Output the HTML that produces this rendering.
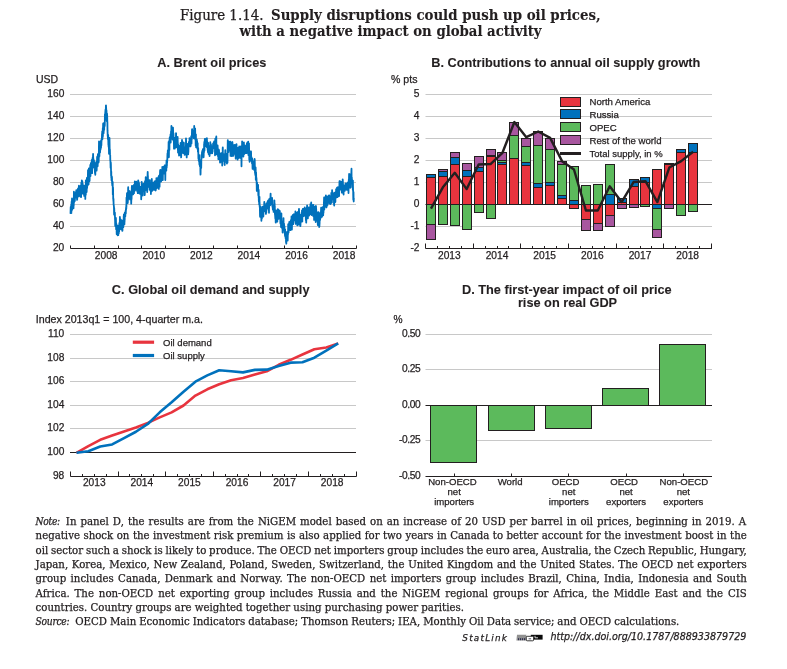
<!DOCTYPE html>
<html><head><meta charset="utf-8"><title>Figure 1.14</title>
<style>
html,body{margin:0;padding:0;background:#fff;}
#page{position:relative;width:787px;height:669px;overflow:hidden;background:#fff;color:#231F20;}
svg{position:absolute;left:0;top:0;}
svg text{font-family:"Liberation Sans", Arial, sans-serif;fill:#231F20;stroke:#231F20;stroke-width:0.25px;}
svg text[font-weight=bold]{stroke-width:0.1px;}
#notes{position:absolute;left:35.6px;top:514.6px;width:720px;font-family:"DejaVu Serif", "Liberation Serif", serif;font-size:10.2px;line-height:14.45px;color:#231F20;-webkit-text-stroke:0.25px #231F20;}
#notes div{white-space:pre;}
#notes .it{font-family:'DejaVu Serif Condensed',serif;font-size:10.2px;letter-spacing:-0.3px;}
#stat{position:absolute;left:0;top:630px;width:745.6px;text-align:right;white-space:nowrap;font-size:10px;line-height:14px;}
#stat .sl{font-family:"DejaVu Sans",sans-serif;font-style:italic;font-weight:bold;font-size:9.5px;letter-spacing:0.3px;color:#231F20;}
#stat .url{font-family:"Liberation Sans", Arial, sans-serif;font-style:italic;font-size:10.6px;}
</style></head><body><div id="page">
<svg width="787" height="669" viewBox="0 0 787 669">
<text x="180.0" y="20.0" font-size="14.9" style="font-family:'DejaVu Serif Condensed', 'DejaVu Serif', serif">Figure 1.14.</text>
<text x="271.0" y="20.0" font-size="14.84" font-weight="bold" style="font-family:'DejaVu Serif Condensed', 'DejaVu Serif', serif">Supply disruptions could push up oil prices,</text>
<text x="239.5" y="36.2" font-size="14.76" font-weight="bold" style="font-family:'DejaVu Serif Condensed', 'DejaVu Serif', serif">with a negative impact on global activity</text>
<text x="211.80" y="66.80" font-size="12.75" text-anchor="middle" font-weight="bold">A. Brent oil prices</text>
<text x="36.00" y="82.70" font-size="10.5">USD</text>
<line x1="70.00" y1="226.50" x2="356.00" y2="226.50" stroke="#C8C8C8" stroke-width="1"/>
<line x1="70.00" y1="204.50" x2="356.00" y2="204.50" stroke="#C8C8C8" stroke-width="1"/>
<line x1="70.00" y1="182.50" x2="356.00" y2="182.50" stroke="#C8C8C8" stroke-width="1"/>
<line x1="70.00" y1="160.50" x2="356.00" y2="160.50" stroke="#C8C8C8" stroke-width="1"/>
<line x1="70.00" y1="138.50" x2="356.00" y2="138.50" stroke="#C8C8C8" stroke-width="1"/>
<line x1="70.00" y1="116.50" x2="356.00" y2="116.50" stroke="#C8C8C8" stroke-width="1"/>
<line x1="70.00" y1="94.50" x2="356.00" y2="94.50" stroke="#C8C8C8" stroke-width="1"/>
<text x="64.30" y="251.00" font-size="10.2" text-anchor="end">20</text>
<text x="64.30" y="229.00" font-size="10.2" text-anchor="end">40</text>
<text x="64.30" y="207.00" font-size="10.2" text-anchor="end">60</text>
<text x="64.30" y="185.00" font-size="10.2" text-anchor="end">80</text>
<text x="64.30" y="163.00" font-size="10.2" text-anchor="end">100</text>
<text x="64.30" y="141.00" font-size="10.2" text-anchor="end">120</text>
<text x="64.30" y="119.00" font-size="10.2" text-anchor="end">140</text>
<text x="64.30" y="97.00" font-size="10.2" text-anchor="end">160</text>
<polyline points="70.5,213.7 70.6,210.5 70.7,206.9 70.8,209.6 70.9,213.2 71.0,211.2 71.1,208.4 71.2,205.0 71.3,210.2 71.4,212.9 71.5,208.1 71.5,206.3 71.6,202.1 71.7,201.5 71.8,204.4 71.9,206.3 72.0,198.5 72.1,203.1 72.2,206.9 72.3,209.7 72.4,207.2 72.5,205.7 72.6,206.3 72.7,205.6 72.8,204.1 72.9,201.9 73.0,199.5 73.1,200.8 73.2,207.4 73.2,203.0 73.3,207.1 73.4,205.2 73.5,208.1 73.6,204.9 73.7,205.6 73.8,202.7 73.9,191.7 74.0,196.3 74.1,195.8 74.2,202.0 74.3,201.8 74.4,198.6 74.5,199.2 74.6,198.0 74.7,198.0 74.7,201.3 74.8,198.0 74.9,200.5 75.0,193.3 75.1,196.9 75.2,194.9 75.3,195.8 75.4,193.2 75.5,196.8 75.6,193.7 75.7,195.6 75.8,192.2 75.9,192.5 76.0,194.1 76.1,197.7 76.2,194.7 76.2,194.2 76.3,190.2 76.4,194.5 76.5,193.7 76.6,193.4 76.7,194.0 76.8,194.5 76.9,194.8 77.0,197.3 77.1,199.9 77.2,199.2 77.3,195.8 77.4,191.3 77.5,190.6 77.6,190.0 77.7,190.6 77.7,191.1 77.8,192.9 77.9,192.0 78.0,188.4 78.1,193.1 78.2,196.6 78.3,190.1 78.4,192.1 78.5,190.7 78.6,190.2 78.7,196.1 78.8,187.8 78.9,185.7 79.0,189.4 79.1,189.4 79.2,191.3 79.3,195.2 79.3,194.7 79.4,192.8 79.5,189.5 79.6,189.0 79.7,190.6 79.8,187.3 79.9,192.2 80.0,189.6 80.1,187.3 80.2,190.4 80.3,196.5 80.4,196.7 80.5,193.1 80.6,190.3 80.7,185.7 80.8,191.2 80.9,190.7 81.0,188.3 81.1,189.6 81.1,197.0 81.2,190.7 81.3,182.7 81.4,182.7 81.5,188.6 81.6,189.9 81.7,188.5 81.8,180.5 81.9,182.3 82.0,184.7 82.1,181.6 82.2,185.3 82.3,181.1 82.4,187.0 82.5,189.4 82.6,186.9 82.7,183.6 82.8,184.4 82.8,185.9 82.9,193.4 83.0,193.8 83.1,193.7 83.2,193.5 83.3,189.9 83.4,191.1 83.5,188.3 83.6,189.1 83.7,190.9 83.8,190.5 83.9,189.3 84.0,187.5 84.1,190.8 84.2,191.8 84.2,195.9 84.3,188.7 84.4,185.7 84.5,189.3 84.6,192.1 84.7,196.0 84.8,193.6 84.9,192.4 85.0,185.7 85.1,187.8 85.2,191.9 85.3,198.9 85.4,190.1 85.5,189.3 85.6,194.3 85.7,191.0 85.8,194.7 85.8,180.4 85.9,180.4 86.0,181.9 86.1,184.8 86.2,192.2 86.3,189.4 86.4,192.2 86.5,186.6 86.6,192.2 86.7,190.9 86.8,183.4 86.9,178.0 87.0,184.0 87.1,187.9 87.2,182.0 87.2,178.9 87.3,183.0 87.4,183.9 87.5,184.1 87.6,185.6 87.7,184.4 87.8,177.5 87.9,175.6 88.0,170.1 88.1,174.0 88.2,176.0 88.3,179.5 88.4,178.4 88.5,181.5 88.6,184.3 88.7,177.7 88.8,171.8 88.9,170.6 88.9,168.3 89.0,170.4 89.1,174.4 89.2,173.7 89.3,174.7 89.4,177.3 89.5,180.4 89.6,181.1 89.7,176.5 89.8,173.6 89.9,173.9 90.0,167.8 90.1,168.6 90.2,167.5 90.3,164.8 90.4,169.8 90.5,176.0 90.6,170.0 90.6,171.5 90.7,165.7 90.8,165.7 90.9,163.4 91.0,162.9 91.1,171.7 91.2,166.8 91.3,168.8 91.4,169.9 91.5,169.2 91.6,164.7 91.7,161.9 91.8,159.8 91.9,167.4 92.0,167.5 92.1,173.2 92.2,168.4 92.3,163.5 92.3,165.3 92.4,162.7 92.5,161.3 92.6,157.8 92.7,161.9 92.8,163.8 92.9,164.3 93.0,156.1 93.1,153.9 93.2,157.5 93.3,158.4 93.4,159.5 93.5,159.9 93.6,161.7 93.7,163.3 93.8,167.3 93.9,167.6 94.0,160.4 94.0,160.7 94.1,162.6 94.2,164.7 94.3,165.1 94.4,164.6 94.5,167.8 94.6,166.9 94.7,166.5 94.8,169.8 94.9,171.8 95.0,173.0 95.1,173.6 95.2,167.4 95.3,174.8 95.4,171.5 95.5,170.8 95.6,170.4 95.7,167.7 95.8,162.8 95.9,163.7 96.0,164.7 96.0,166.6 96.1,165.8 96.2,161.9 96.3,164.0 96.4,167.4 96.5,169.4 96.6,169.7 96.7,170.7 96.8,162.8 96.9,161.2 97.0,162.2 97.1,156.9 97.2,161.0 97.3,158.2 97.4,156.4 97.5,163.1 97.6,166.3 97.7,165.6 97.8,158.9 97.9,154.1 98.0,159.9 98.1,155.0 98.2,157.1 98.2,158.0 98.3,158.7 98.4,158.2 98.5,162.6 98.6,161.9 98.7,162.2 98.8,156.3 98.9,147.9 99.0,141.3 99.1,148.0 99.2,155.8 99.3,155.1 99.4,156.4 99.5,146.9 99.6,146.7 99.7,150.7 99.8,146.8 99.9,146.0 100.0,152.7 100.1,152.1 100.2,150.5 100.3,148.7 100.4,147.1 100.5,147.7 100.5,145.9 100.6,147.5 100.7,149.0 100.8,141.4 100.9,141.3 101.0,140.7 101.1,147.1 101.2,145.2 101.3,140.6 101.4,145.3 101.5,139.3 101.6,141.1 101.7,138.9 101.8,139.4 101.9,138.1 102.0,133.8 102.1,136.9 102.2,131.4 102.3,136.4 102.4,139.2 102.5,134.6 102.5,138.1 102.6,137.2 102.7,132.1 102.8,128.1 102.9,136.2 103.0,132.1 103.1,124.9 103.2,123.4 103.3,127.4 103.4,130.4 103.5,130.5 103.6,133.2 103.7,131.2 103.8,129.7 103.9,128.4 104.0,122.9 104.1,124.8 104.2,129.7 104.2,123.1 104.3,127.0 104.4,126.4 104.5,124.7 104.6,124.4 104.7,126.2 104.8,124.2 104.9,114.3 105.0,118.9 105.1,118.9 105.2,114.0 105.3,112.4 105.4,111.1 105.5,109.6 105.5,118.5 105.6,118.6 105.7,114.6 105.8,110.8 105.9,105.6 106.0,105.5 106.1,107.6 106.2,109.1 106.3,111.4 106.4,111.4 106.5,110.4 106.6,114.1 106.7,118.2 106.7,121.0 106.8,115.9 106.9,113.3 107.0,113.6 107.1,114.8 107.2,116.0 107.3,121.2 107.4,122.6 107.5,130.4 107.6,132.4 107.7,136.3 107.8,134.4 107.9,139.0 108.0,139.4 108.1,138.3 108.2,135.0 108.3,141.1 108.4,145.1 108.5,141.5 108.6,146.7 108.7,144.4 108.8,147.2 108.9,147.4 109.0,153.8 109.1,148.8 109.1,150.9 109.2,153.7 109.3,145.5 109.4,146.5 109.5,138.0 109.6,144.6 109.7,150.9 109.8,152.9 109.9,149.4 110.0,153.5 110.1,154.4 110.2,155.1 110.3,160.8 110.4,160.8 110.5,163.4 110.6,167.7 110.7,163.4 110.8,162.5 110.9,164.6 111.0,169.3 111.1,175.8 111.2,171.5 111.3,171.8 111.3,177.7 111.4,175.9 111.5,180.2 111.6,178.1 111.7,177.1 111.8,176.5 111.9,177.1 112.0,178.2 112.1,183.4 112.2,184.2 112.3,185.5 112.4,185.8 112.5,185.3 112.6,184.7 112.7,182.0 112.8,194.5 112.9,192.2 113.0,193.6 113.0,187.4 113.1,189.2 113.2,198.9 113.3,198.1 113.4,201.2 113.5,198.9 113.6,204.4 113.7,204.7 113.8,205.6 113.9,206.4 114.0,208.9 114.1,214.4 114.1,210.8 114.2,208.0 114.3,210.3 114.4,214.8 114.5,214.0 114.6,213.1 114.7,215.4 114.8,216.2 114.9,212.7 115.0,218.8 115.1,220.5 115.2,225.7 115.3,225.1 115.4,225.2 115.5,226.3 115.5,226.3 115.6,219.4 115.7,222.2 115.8,223.6 115.9,218.0 116.0,222.1 116.1,229.3 116.2,227.1 116.3,229.8 116.4,223.9 116.5,229.5 116.6,230.5 116.7,234.1 116.8,231.1 116.9,233.1 117.0,231.4 117.0,231.7 117.1,232.6 117.2,228.8 117.3,227.1 117.4,228.9 117.5,232.7 117.6,235.3 117.7,232.9 117.8,225.7 117.9,229.8 118.0,232.6 118.1,233.5 118.2,235.0 118.3,235.1 118.4,232.8 118.5,226.7 118.6,227.7 118.7,229.4 118.8,233.3 118.9,229.7 118.9,228.5 119.0,231.1 119.1,231.8 119.2,229.0 119.3,224.3 119.4,222.9 119.5,223.2 119.6,224.7 119.7,223.4 119.8,223.5 119.9,217.0 120.0,223.2 120.1,224.4 120.2,220.3 120.3,222.8 120.4,219.2 120.5,221.8 120.6,222.6 120.7,224.6 120.8,228.6 120.9,229.4 121.0,220.7 121.1,220.9 121.2,221.3 121.3,220.5 121.4,221.3 121.5,220.4 121.5,223.8 121.6,225.5 121.7,222.9 121.8,225.5 121.9,229.8 122.0,228.8 122.1,229.2 122.2,226.2 122.3,228.6 122.4,230.9 122.5,230.0 122.6,224.1 122.7,225.9 122.8,226.3 122.9,227.0 123.0,225.8 123.1,223.1 123.2,220.1 123.3,227.2 123.4,221.6 123.5,222.5 123.6,223.6 123.7,215.9 123.8,219.3 123.9,214.5 124.0,214.6 124.1,220.3 124.1,218.3 124.2,216.3 124.3,217.6 124.4,224.4 124.5,221.7 124.6,219.5 124.7,220.9 124.8,212.6 124.9,214.3 125.0,215.2 125.1,215.2 125.2,216.3 125.3,216.4 125.4,213.5 125.5,211.0 125.6,211.8 125.7,210.6 125.8,213.6 125.9,208.9 126.0,210.1 126.1,207.4 126.2,209.1 126.2,208.3 126.3,205.4 126.4,207.9 126.5,197.6 126.6,199.7 126.7,200.5 126.8,202.5 126.9,196.1 127.0,193.1 127.1,194.6 127.2,200.1 127.3,200.4 127.4,197.1 127.5,198.8 127.6,201.7 127.7,203.1 127.8,202.4 127.9,199.6 128.0,200.2 128.1,198.4 128.1,188.9 128.2,187.2 128.3,194.9 128.4,194.5 128.5,195.0 128.6,195.9 128.7,192.6 128.8,195.2 128.9,196.4 129.0,197.1 129.1,196.5 129.2,191.9 129.3,191.1 129.4,197.2 129.5,197.4 129.6,198.5 129.7,194.0 129.8,193.6 129.8,191.2 129.9,192.9 130.0,199.4 130.1,195.3 130.2,193.9 130.3,192.2 130.4,197.0 130.5,195.0 130.6,196.3 130.7,196.9 130.8,193.9 130.9,192.4 131.0,195.4 131.1,199.4 131.2,203.7 131.3,199.9 131.4,192.7 131.4,192.6 131.5,199.4 131.6,198.4 131.7,193.8 131.8,187.6 131.9,186.0 132.0,187.6 132.1,188.9 132.2,193.4 132.3,193.7 132.4,193.4 132.5,194.6 132.6,192.5 132.7,192.8 132.8,190.6 132.9,186.1 133.0,185.9 133.1,186.7 133.2,189.2 133.2,194.3 133.3,192.4 133.4,189.4 133.5,192.6 133.6,187.1 133.7,189.3 133.8,188.1 133.9,189.6 134.0,193.2 134.1,184.6 134.2,190.3 134.3,186.7 134.4,189.4 134.5,188.1 134.6,190.8 134.7,190.9 134.8,186.7 134.8,181.3 134.9,187.3 135.0,187.6 135.1,184.8 135.2,188.3 135.3,185.7 135.4,189.1 135.5,186.4 135.6,185.5 135.7,182.6 135.8,183.8 135.9,189.2 136.0,186.0 136.1,189.9 136.2,186.0 136.3,181.6 136.4,182.3 136.5,186.2 136.5,182.6 136.6,183.9 136.7,189.0 136.8,188.7 136.9,182.9 137.0,185.4 137.1,185.3 137.2,186.6 137.3,191.5 137.4,190.3 137.5,187.1 137.6,186.0 137.7,186.7 137.8,193.2 137.9,186.0 138.0,184.0 138.1,182.1 138.2,180.3 138.2,185.0 138.3,187.8 138.4,186.4 138.5,181.5 138.6,189.6 138.7,189.2 138.8,190.5 138.9,187.2 139.0,182.8 139.1,186.1 139.2,190.8 139.3,189.2 139.4,189.4 139.5,193.6 139.6,188.0 139.7,189.8 139.8,186.9 139.8,191.7 139.9,186.7 140.0,192.1 140.1,187.1 140.2,193.6 140.3,186.9 140.4,189.1 140.5,193.9 140.6,192.2 140.7,189.7 140.8,192.5 140.9,192.4 141.0,190.0 141.1,190.1 141.2,199.3 141.3,195.7 141.4,191.2 141.5,189.3 141.5,186.2 141.6,190.0 141.7,181.8 141.8,183.1 141.9,185.4 142.0,184.1 142.1,183.9 142.2,186.4 142.3,190.0 142.4,186.6 142.5,186.9 142.6,194.2 142.7,195.5 142.8,191.2 142.9,190.2 143.0,189.2 143.1,187.5 143.2,188.3 143.2,184.2 143.3,188.9 143.4,190.7 143.5,189.4 143.6,187.4 143.7,186.3 143.8,183.6 143.9,188.4 144.0,185.7 144.1,186.2 144.2,191.0 144.3,190.5 144.4,183.1 144.5,183.4 144.6,187.3 144.7,195.2 144.8,193.8 144.8,192.8 144.9,189.8 145.0,181.1 145.1,181.5 145.2,182.9 145.3,187.4 145.4,190.4 145.5,188.6 145.6,188.4 145.7,177.2 145.8,182.2 145.9,185.3 146.0,181.1 146.1,182.3 146.2,186.8 146.3,181.0 146.4,183.0 146.5,187.1 146.6,183.8 146.6,181.5 146.7,182.8 146.8,180.0 146.9,178.1 147.0,182.4 147.1,188.2 147.2,192.0 147.3,186.5 147.4,179.4 147.5,176.9 147.6,174.5 147.7,171.9 147.8,176.6 147.9,175.7 148.0,183.6 148.1,180.6 148.2,180.2 148.2,181.6 148.3,183.5 148.4,186.7 148.5,184.5 148.6,179.8 148.7,182.8 148.8,181.6 148.9,184.9 149.0,183.7 149.1,187.2 149.2,184.7 149.3,185.4 149.4,184.2 149.5,186.6 149.6,189.7 149.7,188.7 149.8,184.0 149.9,180.1 150.0,184.2 150.0,182.8 150.1,182.4 150.2,183.4 150.3,190.2 150.4,187.7 150.5,190.7 150.6,185.6 150.7,184.3 150.8,184.3 150.9,194.0 151.0,188.9 151.1,186.1 151.2,190.8 151.3,186.1 151.4,186.5 151.5,187.4 151.6,189.5 151.6,191.5 151.7,190.6 151.8,179.0 151.9,182.3 152.0,183.8 152.1,187.2 152.2,188.8 152.3,189.3 152.4,190.6 152.5,185.7 152.6,186.7 152.7,183.7 152.8,188.4 152.9,184.2 153.0,185.1 153.1,183.2 153.2,184.7 153.3,187.9 153.3,182.8 153.4,185.4 153.5,185.8 153.6,188.2 153.7,186.0 153.8,186.6 153.9,184.8 154.0,183.7 154.1,186.3 154.2,189.9 154.3,185.9 154.4,182.4 154.5,181.3 154.6,186.5 154.7,183.6 154.8,182.9 154.9,182.8 155.0,182.3 155.1,184.4 155.2,183.7 155.2,181.1 155.3,184.3 155.4,188.9 155.5,186.9 155.6,185.0 155.7,190.5 155.8,189.5 155.9,185.0 156.0,185.1 156.1,184.3 156.2,188.2 156.3,183.3 156.4,178.2 156.5,181.8 156.6,185.2 156.7,188.3 156.8,183.3 156.9,183.3 157.0,186.2 157.1,181.2 157.2,180.2 157.3,180.1 157.4,187.6 157.5,186.0 157.5,183.0 157.6,187.3 157.7,182.6 157.8,178.7 157.9,177.9 158.0,183.1 158.1,185.6 158.2,181.7 158.3,179.5 158.4,177.7 158.5,176.8 158.6,180.5 158.7,183.1 158.8,188.9 158.9,183.4 159.0,175.7 159.1,180.5 159.2,182.8 159.3,180.3 159.4,179.8 159.4,185.0 159.5,185.4 159.6,186.7 159.7,177.3 159.8,181.2 159.9,178.1 160.0,173.0 160.1,170.5 160.2,170.6 160.3,169.9 160.4,178.5 160.5,179.9 160.6,181.7 160.7,181.1 160.8,171.4 160.9,180.2 161.0,177.3 161.1,181.5 161.2,175.3 161.2,172.2 161.3,176.3 161.4,170.0 161.5,173.1 161.6,170.7 161.7,172.5 161.8,176.1 161.9,177.2 162.0,176.8 162.1,174.1 162.2,174.2 162.3,166.9 162.4,171.3 162.5,174.3 162.6,176.4 162.7,177.6 162.8,180.1 162.8,179.8 162.9,173.4 163.0,172.8 163.1,173.1 163.2,171.5 163.3,168.2 163.4,167.8 163.5,167.0 163.6,170.8 163.7,171.6 163.8,173.5 163.9,172.1 164.0,173.6 164.1,172.8 164.2,171.6 164.3,171.0 164.4,170.8 164.5,171.2 164.6,165.4 164.6,167.8 164.7,171.0 164.8,168.6 164.9,171.4 165.0,172.6 165.1,169.3 165.2,173.2 165.3,180.1 165.4,172.0 165.5,165.2 165.6,170.4 165.7,170.3 165.8,165.2 165.9,170.8 166.0,169.8 166.1,170.1 166.2,166.8 166.3,170.7 166.4,163.1 166.5,162.4 166.5,160.4 166.6,161.3 166.7,167.4 166.8,163.8 166.9,165.7 167.0,161.9 167.1,162.7 167.2,161.1 167.3,159.7 167.4,155.6 167.5,153.3 167.6,157.8 167.7,156.4 167.8,150.5 167.9,150.5 168.0,154.3 168.1,153.9 168.2,154.1 168.3,149.7 168.4,150.2 168.5,149.0 168.6,142.0 168.7,150.2 168.7,152.8 168.8,156.3 168.9,157.3 169.0,149.2 169.1,146.8 169.2,140.8 169.3,149.7 169.4,150.1 169.5,142.2 169.6,139.3 169.7,138.1 169.8,137.2 169.9,139.6 170.0,140.7 170.1,141.0 170.2,138.1 170.3,140.0 170.4,139.1 170.5,134.5 170.6,140.9 170.7,142.6 170.8,138.8 170.9,139.6 170.9,139.4 171.0,131.4 171.1,133.0 171.2,136.4 171.3,132.8 171.4,125.9 171.5,134.7 171.6,137.5 171.7,135.9 171.8,137.6 171.9,128.5 172.0,129.5 172.1,133.0 172.2,132.1 172.3,136.2 172.4,137.8 172.5,136.2 172.6,127.7 172.7,139.5 172.8,136.4 172.9,131.7 172.9,131.6 173.0,127.6 173.1,130.8 173.2,133.6 173.3,136.1 173.4,139.9 173.5,133.4 173.6,140.0 173.7,139.7 173.8,141.1 173.9,142.8 174.0,148.7 174.1,145.5 174.2,142.2 174.3,140.7 174.4,137.6 174.5,139.7 174.6,142.5 174.6,140.8 174.7,138.8 174.8,143.3 174.9,147.8 175.0,148.5 175.1,141.8 175.2,138.8 175.3,143.9 175.4,143.1 175.5,140.3 175.6,137.3 175.7,142.6 175.8,143.9 175.9,138.9 176.0,133.2 176.1,133.3 176.2,142.5 176.2,141.8 176.3,144.0 176.4,144.4 176.5,146.7 176.6,147.3 176.7,146.0 176.8,139.3 176.9,139.8 177.0,141.0 177.1,143.0 177.2,146.7 177.3,146.9 177.4,142.0 177.5,141.1 177.6,136.8 177.7,140.5 177.8,143.4 177.9,150.3 178.0,146.9 178.0,152.5 178.1,144.4 178.2,147.7 178.3,147.2 178.4,151.7 178.5,151.0 178.6,152.3 178.7,146.0 178.8,145.8 178.9,150.6 179.0,155.6 179.1,151.8 179.2,151.3 179.3,153.3 179.4,148.5 179.5,148.8 179.6,147.9 179.7,149.9 179.7,150.9 179.8,151.0 179.9,155.0 180.0,149.4 180.1,147.5 180.2,153.7 180.3,150.7 180.4,145.6 180.5,146.3 180.6,143.0 180.7,146.7 180.8,147.7 180.9,152.6 181.0,153.7 181.1,157.4 181.2,156.2 181.3,151.7 181.3,148.6 181.4,144.9 181.5,146.6 181.6,151.2 181.7,148.8 181.8,149.5 181.9,143.5 182.0,139.9 182.1,141.4 182.2,149.3 182.3,151.2 182.4,149.7 182.5,152.0 182.6,149.0 182.7,146.9 182.8,145.4 182.9,146.7 183.0,151.1 183.0,153.1 183.1,151.7 183.2,146.1 183.3,142.5 183.4,142.7 183.5,144.9 183.6,144.9 183.7,144.4 183.8,142.6 183.9,143.2 184.0,151.5 184.1,147.3 184.2,147.1 184.3,149.8 184.4,147.9 184.5,147.7 184.6,148.8 184.6,154.8 184.7,151.8 184.8,148.8 184.9,149.3 185.0,154.7 185.1,150.6 185.2,147.6 185.3,148.0 185.4,147.3 185.5,149.5 185.6,151.7 185.7,148.8 185.8,150.3 185.9,149.2 186.0,138.3 186.1,141.4 186.2,144.8 186.2,152.5 186.3,150.5 186.4,147.3 186.5,150.5 186.6,150.6 186.7,157.4 186.8,151.3 186.9,152.2 187.0,148.2 187.1,144.0 187.2,147.0 187.3,144.6 187.4,145.9 187.5,148.0 187.6,149.3 187.7,151.9 187.8,146.0 187.9,144.3 187.9,149.9 188.0,146.4 188.1,149.9 188.2,154.3 188.3,147.4 188.4,152.2 188.5,146.3 188.6,146.7 188.7,144.5 188.8,144.4 188.9,142.0 189.0,143.3 189.1,143.1 189.2,143.9 189.3,141.3 189.4,144.8 189.5,141.6 189.5,138.2 189.6,141.7 189.7,141.5 189.8,144.5 189.9,145.1 190.0,143.3 190.1,144.3 190.2,146.5 190.3,144.5 190.4,142.6 190.5,141.1 190.6,138.8 190.7,145.9 190.8,138.5 190.9,140.0 191.0,142.6 191.1,142.4 191.2,139.4 191.2,136.2 191.3,138.7 191.4,138.0 191.5,143.4 191.6,140.0 191.7,139.0 191.8,139.5 191.9,135.0 192.0,129.5 192.1,129.2 192.2,135.2 192.3,130.1 192.4,133.9 192.5,134.6 192.6,136.8 192.7,134.1 192.8,132.3 192.9,132.7 193.0,134.1 193.1,134.4 193.2,135.3 193.2,130.9 193.3,133.7 193.4,133.7 193.5,133.8 193.6,135.6 193.7,134.6 193.8,138.3 193.9,133.5 194.0,130.5 194.1,131.8 194.2,125.9 194.3,131.1 194.4,129.4 194.5,129.1 194.6,132.6 194.7,133.6 194.8,130.3 194.9,131.8 195.0,132.0 195.1,128.4 195.2,130.9 195.3,138.9 195.4,139.8 195.4,135.1 195.5,136.3 195.6,140.3 195.7,145.6 195.8,140.6 195.9,134.3 196.0,140.7 196.1,147.3 196.2,141.7 196.3,142.6 196.4,142.5 196.5,142.7 196.6,145.0 196.7,142.1 196.8,139.4 196.9,140.4 197.0,144.3 197.1,141.3 197.2,144.1 197.3,143.5 197.4,148.7 197.5,146.3 197.6,145.2 197.7,143.2 197.7,146.9 197.8,147.7 197.9,151.8 198.0,149.4 198.1,149.0 198.2,148.2 198.3,153.0 198.4,158.5 198.5,157.9 198.6,158.4 198.7,160.8 198.8,157.9 198.9,155.6 199.0,156.5 199.1,154.9 199.2,156.8 199.3,162.5 199.4,164.3 199.5,164.8 199.6,161.9 199.6,160.0 199.7,161.9 199.8,160.3 199.9,165.8 200.0,166.5 200.1,161.9 200.2,163.3 200.3,162.4 200.4,171.7 200.5,174.6 200.6,173.1 200.7,166.0 200.8,160.1 200.9,164.1 201.0,166.9 201.1,168.0 201.2,167.9 201.3,162.8 201.3,162.7 201.4,155.1 201.5,154.8 201.6,158.9 201.7,157.5 201.8,157.8 201.9,154.5 202.0,152.1 202.1,154.7 202.2,151.6 202.3,151.0 202.4,152.7 202.5,152.3 202.6,150.4 202.7,152.6 202.8,154.7 202.9,149.1 203.0,150.4 203.0,152.7 203.1,150.3 203.2,155.2 203.3,152.5 203.4,155.6 203.5,153.9 203.6,157.3 203.7,155.3 203.8,148.8 203.9,148.9 204.0,152.2 204.1,143.9 204.2,147.4 204.3,141.9 204.4,145.7 204.5,150.5 204.6,141.7 204.7,144.7 204.7,142.0 204.8,139.0 204.9,145.7 205.0,144.3 205.1,145.5 205.2,142.0 205.3,142.1 205.4,146.2 205.5,143.6 205.6,140.3 205.7,142.4 205.8,140.7 205.9,143.6 206.0,143.5 206.1,142.3 206.2,142.5 206.3,138.9 206.4,138.3 206.5,138.5 206.6,139.1 206.7,141.4 206.7,147.1 206.8,142.6 206.9,138.2 207.0,141.2 207.1,144.4 207.2,145.4 207.3,141.8 207.4,143.3 207.5,148.3 207.6,148.2 207.7,150.3 207.8,149.5 207.9,151.4 208.0,152.3 208.1,145.0 208.2,142.8 208.3,150.5 208.4,152.4 208.5,151.5 208.6,151.0 208.6,154.0 208.7,148.0 208.8,153.3 208.9,148.4 209.0,146.0 209.1,148.3 209.2,150.4 209.3,149.2 209.4,148.3 209.5,155.3 209.6,156.0 209.7,150.5 209.8,149.9 209.9,150.7 210.0,153.0 210.1,153.2 210.2,153.6 210.3,142.1 210.3,149.7 210.4,144.3 210.5,145.1 210.6,146.5 210.7,147.2 210.8,149.5 210.9,144.2 211.0,145.1 211.1,147.4 211.2,148.7 211.3,148.2 211.4,152.3 211.5,151.5 211.6,152.1 211.7,148.2 211.8,146.2 211.9,153.3 211.9,151.3 212.0,146.3 212.1,151.2 212.2,153.2 212.3,147.0 212.4,147.5 212.5,148.7 212.6,151.8 212.7,148.7 212.8,149.5 212.9,147.2 213.0,145.3 213.1,143.4 213.2,145.7 213.3,147.5 213.4,146.5 213.5,146.3 213.6,145.2 213.7,147.0 213.7,146.8 213.8,147.8 213.9,148.2 214.0,145.9 214.1,141.3 214.2,144.6 214.3,142.4 214.4,142.0 214.5,142.5 214.6,141.1 214.7,144.6 214.8,142.7 214.9,142.7 215.0,155.3 215.1,148.9 215.2,145.0 215.3,138.6 215.4,145.5 215.5,145.2 215.6,144.2 215.7,148.2 215.7,143.0 215.8,143.0 215.9,147.2 216.0,150.7 216.1,150.0 216.2,140.4 216.3,136.4 216.4,149.8 216.5,154.4 216.6,148.6 216.7,148.3 216.8,149.9 216.9,146.8 217.0,147.1 217.1,146.7 217.2,146.7 217.3,151.3 217.4,145.8 217.5,149.1 217.6,145.6 217.6,145.4 217.7,147.6 217.8,148.5 217.9,149.6 218.0,156.3 218.1,154.7 218.2,151.6 218.3,156.9 218.4,159.2 218.5,152.1 218.6,149.5 218.7,156.1 218.8,152.9 218.9,153.1 219.0,150.0 219.1,152.8 219.2,154.0 219.3,156.5 219.3,154.8 219.4,155.1 219.5,157.1 219.6,157.2 219.7,158.7 219.8,155.1 219.9,158.8 220.0,162.5 220.1,162.6 220.2,155.9 220.3,157.8 220.4,155.0 220.5,153.3 220.6,156.6 220.7,154.2 220.8,153.8 220.9,155.5 220.9,158.5 221.0,158.0 221.1,161.8 221.2,160.4 221.3,160.8 221.4,157.7 221.5,156.5 221.6,159.1 221.7,155.6 221.8,152.8 221.9,155.1 222.0,159.0 222.1,156.9 222.2,165.5 222.3,163.8 222.4,159.2 222.5,152.3 222.6,157.8 222.7,153.2 222.7,148.4 222.8,147.4 222.9,160.9 223.0,156.3 223.1,157.1 223.2,154.8 223.3,157.6 223.4,160.5 223.5,160.7 223.6,155.0 223.7,154.1 223.8,157.3 223.9,156.6 224.0,154.6 224.1,154.5 224.2,156.3 224.3,159.1 224.3,160.8 224.4,160.5 224.5,160.6 224.6,163.9 224.7,165.0 224.8,157.9 224.9,160.8 225.0,162.8 225.1,159.5 225.2,152.9 225.3,150.1 225.4,154.1 225.5,158.1 225.6,158.3 225.7,159.6 225.8,158.9 225.9,155.1 226.0,158.2 226.0,158.7 226.1,157.2 226.2,155.5 226.3,157.1 226.4,157.8 226.5,159.2 226.6,158.6 226.7,154.0 226.8,154.1 226.9,163.5 227.0,155.8 227.1,154.0 227.2,155.7 227.3,154.4 227.4,162.9 227.5,162.4 227.6,152.7 227.7,144.5 227.8,140.1 227.9,147.5 227.9,148.5 228.0,146.4 228.1,152.0 228.2,144.7 228.3,149.2 228.4,147.8 228.5,152.0 228.6,148.9 228.7,148.5 228.8,144.5 228.9,149.9 229.0,148.6 229.1,141.7 229.2,148.6 229.3,146.8 229.4,145.7 229.5,148.3 229.6,148.9 229.7,143.6 229.8,141.8 229.9,142.9 229.9,144.5 230.0,150.1 230.1,148.8 230.2,142.4 230.3,141.7 230.4,149.6 230.5,155.9 230.6,154.4 230.7,150.8 230.8,151.5 230.9,151.1 231.0,148.7 231.1,145.7 231.2,146.5 231.3,143.4 231.4,150.9 231.5,148.4 231.6,147.2 231.6,153.2 231.7,146.9 231.8,153.4 231.9,156.2 232.0,143.8 232.1,142.2 232.2,144.5 232.3,142.5 232.4,142.1 232.5,149.7 232.6,148.0 232.7,144.1 232.8,147.5 232.9,148.4 233.0,150.7 233.1,147.8 233.2,150.7 233.3,152.3 233.4,155.3 233.5,155.8 233.5,152.2 233.6,149.6 233.7,151.2 233.8,154.3 233.9,151.1 234.0,149.5 234.1,145.7 234.2,149.7 234.3,151.5 234.4,149.3 234.5,144.8 234.6,147.9 234.7,149.5 234.8,153.3 234.9,153.3 235.0,148.9 235.1,147.0 235.2,145.2 235.3,153.6 235.4,149.5 235.5,153.4 235.6,150.2 235.7,158.7 235.8,155.3 235.8,156.2 235.9,149.4 236.0,150.0 236.1,146.3 236.2,150.3 236.3,144.3 236.4,149.4 236.5,144.1 236.6,149.5 236.7,153.9 236.8,149.7 236.9,152.1 237.0,152.1 237.1,156.5 237.2,155.3 237.3,153.2 237.4,154.9 237.5,152.0 237.6,159.7 237.7,152.8 237.8,153.7 237.9,147.9 238.0,151.1 238.0,153.8 238.1,154.4 238.2,152.3 238.3,150.2 238.4,152.7 238.5,155.1 238.6,152.2 238.7,149.4 238.8,156.7 238.9,158.0 239.0,157.4 239.1,149.0 239.2,146.5 239.3,146.7 239.4,147.8 239.5,153.9 239.6,149.3 239.7,152.4 239.8,155.1 239.9,147.2 240.0,154.7 240.1,148.9 240.2,150.0 240.3,154.4 240.3,152.9 240.4,155.6 240.5,153.5 240.6,155.2 240.7,158.0 240.8,146.3 240.9,151.2 241.0,148.6 241.1,150.8 241.2,149.5 241.3,155.4 241.4,157.6 241.5,166.3 241.6,156.1 241.7,152.8 241.8,156.7 241.9,151.7 242.0,150.1 242.1,141.3 242.2,146.0 242.3,146.1 242.4,147.1 242.5,147.0 242.5,149.7 242.6,152.3 242.7,149.8 242.8,146.7 242.9,153.3 243.0,156.4 243.1,154.3 243.2,146.9 243.3,150.1 243.4,156.6 243.5,151.4 243.6,148.9 243.7,143.6 243.8,146.9 243.9,142.5 244.0,149.4 244.1,147.3 244.2,148.8 244.3,154.1 244.4,153.6 244.5,147.9 244.6,145.7 244.6,149.7 244.7,146.6 244.8,145.7 244.9,145.3 245.0,147.1 245.1,147.9 245.2,152.1 245.3,151.7 245.4,150.7 245.5,153.2 245.6,152.9 245.7,151.1 245.8,150.0 245.9,146.6 246.0,151.9 246.1,152.3 246.2,150.3 246.3,151.4 246.4,149.5 246.5,151.2 246.6,146.4 246.7,148.8 246.8,153.0 246.8,148.6 246.9,143.3 247.0,152.8 247.1,151.4 247.2,150.0 247.3,145.9 247.4,142.3 247.5,146.0 247.6,152.7 247.7,148.3 247.8,145.0 247.9,145.1 248.0,146.4 248.1,150.5 248.2,141.6 248.3,149.7 248.4,155.0 248.5,149.4 248.6,149.1 248.7,147.8 248.8,148.4 248.9,144.3 249.0,143.3 249.1,149.7 249.1,147.8 249.2,154.4 249.3,159.7 249.4,152.6 249.5,154.8 249.6,161.8 249.7,158.3 249.8,158.9 249.9,155.4 250.0,155.8 250.1,158.5 250.2,159.8 250.3,155.6 250.4,159.2 250.5,157.6 250.6,160.6 250.7,157.4 250.8,151.4 250.9,152.5 251.0,151.4 251.1,153.1 251.2,158.8 251.3,159.5 251.3,158.8 251.4,157.2 251.5,160.0 251.6,157.5 251.7,160.7 251.8,159.8 251.9,159.7 252.0,163.6 252.1,158.4 252.2,159.1 252.3,159.3 252.4,160.0 252.5,167.3 252.6,168.9 252.7,168.2 252.8,161.8 252.9,164.0 253.0,161.4 253.1,165.7 253.2,167.4 253.3,167.2 253.4,162.2 253.5,168.9 253.6,167.6 253.6,165.2 253.7,165.0 253.8,165.7 253.9,163.6 254.0,164.3 254.1,169.1 254.2,166.3 254.3,169.8 254.4,170.3 254.5,164.8 254.6,159.0 254.7,159.6 254.8,163.5 254.9,169.6 255.0,172.9 255.1,166.8 255.2,168.4 255.3,175.0 255.4,168.9 255.5,169.4 255.6,167.4 255.7,169.7 255.8,179.3 255.8,179.8 255.9,178.3 256.0,177.9 256.1,172.5 256.2,177.1 256.3,177.8 256.4,178.3 256.5,178.8 256.6,182.4 256.7,185.0 256.8,190.9 256.9,184.8 257.0,184.0 257.1,182.7 257.2,186.5 257.3,185.4 257.4,188.3 257.5,190.4 257.6,187.5 257.7,185.5 257.8,185.1 257.8,187.3 257.9,189.8 258.0,185.9 258.1,184.9 258.2,190.6 258.3,195.3 258.4,193.5 258.5,193.2 258.6,197.3 258.7,189.8 258.8,200.1 258.9,201.7 259.0,199.6 259.1,196.7 259.2,204.4 259.3,204.3 259.4,198.9 259.5,196.8 259.5,201.2 259.6,202.9 259.7,207.1 259.8,205.6 259.9,209.7 260.0,215.2 260.1,216.8 260.2,213.2 260.3,216.0 260.4,210.2 260.5,207.0 260.6,206.6 260.7,207.7 260.8,207.1 260.9,209.6 260.9,209.4 261.0,210.8 261.1,210.8 261.2,216.4 261.3,218.5 261.4,220.8 261.5,215.8 261.6,214.1 261.7,217.0 261.8,218.8 261.9,218.3 262.0,213.5 262.1,213.9 262.2,214.3 262.3,215.7 262.4,214.5 262.5,208.5 262.5,212.2 262.6,212.9 262.7,206.9 262.8,206.6 262.9,211.9 263.0,207.6 263.1,212.4 263.2,209.1 263.3,216.7 263.4,215.6 263.5,209.1 263.6,210.2 263.7,211.0 263.8,209.3 263.9,208.7 264.0,209.8 264.1,211.1 264.2,204.3 264.3,201.8 264.4,204.2 264.5,209.9 264.6,210.9 264.7,210.7 264.8,208.3 264.8,203.8 264.9,208.0 265.0,208.2 265.1,210.0 265.2,209.3 265.3,211.5 265.4,209.4 265.5,206.0 265.6,209.1 265.7,210.5 265.8,209.9 265.9,213.9 266.0,206.2 266.1,211.8 266.2,211.5 266.3,212.8 266.4,206.1 266.5,208.7 266.6,209.9 266.7,203.1 266.8,205.7 266.9,208.9 267.0,208.0 267.0,206.8 267.1,209.0 267.2,208.2 267.3,207.8 267.4,204.7 267.5,202.8 267.6,201.6 267.7,203.7 267.8,201.9 267.9,203.9 268.0,200.7 268.1,201.2 268.2,204.1 268.3,200.4 268.4,206.9 268.5,208.5 268.6,208.7 268.7,206.8 268.8,209.1 268.9,210.2 269.0,212.8 269.0,207.9 269.1,208.2 269.2,199.2 269.3,199.0 269.4,204.8 269.5,200.1 269.6,201.4 269.7,199.1 269.8,204.6 269.9,200.4 270.0,198.4 270.1,202.0 270.2,205.1 270.3,205.2 270.4,203.3 270.5,195.7 270.6,193.7 270.6,193.6 270.7,198.8 270.8,201.7 270.9,201.0 271.0,202.6 271.1,204.0 271.2,203.8 271.3,200.5 271.4,201.6 271.5,201.1 271.6,202.7 271.7,203.4 271.8,204.3 271.9,200.0 272.0,201.1 272.1,197.9 272.2,201.5 272.3,199.7 272.4,206.3 272.5,206.8 272.6,206.1 272.6,207.6 272.7,206.9 272.8,209.1 272.9,208.0 273.0,209.1 273.1,207.8 273.2,208.1 273.3,210.5 273.4,210.0 273.5,208.6 273.6,211.9 273.7,209.5 273.8,205.0 273.9,207.4 274.0,206.4 274.1,205.9 274.2,210.1 274.3,205.9 274.4,200.4 274.5,208.5 274.6,203.2 274.7,209.3 274.8,206.0 274.9,214.3 274.9,209.8 275.0,210.7 275.1,215.6 275.2,216.8 275.3,218.3 275.4,218.7 275.5,215.3 275.6,215.4 275.7,222.6 275.8,219.8 275.9,216.2 276.0,215.7 276.1,210.5 276.2,218.4 276.3,216.1 276.4,215.6 276.5,213.2 276.6,218.2 276.7,220.5 276.8,218.3 276.9,216.4 277.0,221.1 277.1,216.9 277.1,215.9 277.2,213.1 277.3,221.7 277.4,216.7 277.5,218.3 277.6,217.9 277.7,213.9 277.8,209.1 277.9,211.3 278.0,213.2 278.1,209.9 278.2,214.8 278.3,215.2 278.4,216.6 278.5,218.9 278.6,216.6 278.7,210.0 278.8,212.2 278.9,212.6 279.0,214.6 279.1,212.2 279.1,213.9 279.2,218.0 279.3,217.3 279.4,213.0 279.5,215.6 279.6,213.1 279.7,215.8 279.8,211.0 279.9,213.9 280.0,214.3 280.1,217.4 280.2,215.8 280.3,218.2 280.4,223.2 280.5,220.6 280.6,223.8 280.7,217.6 280.8,216.6 280.8,218.5 280.9,217.6 281.0,227.0 281.1,219.5 281.2,222.4 281.3,220.0 281.4,213.4 281.5,222.5 281.6,223.6 281.7,222.1 281.8,221.3 281.9,227.2 282.0,228.1 282.1,221.6 282.2,224.6 282.3,222.8 282.4,227.8 282.5,229.0 282.6,232.5 282.7,228.2 282.7,223.6 282.8,224.6 282.9,226.3 283.0,225.7 283.1,225.0 283.2,226.9 283.3,225.6 283.4,221.0 283.5,218.1 283.6,224.9 283.7,230.4 283.8,224.1 283.9,224.0 284.0,223.6 284.1,225.4 284.2,228.9 284.3,227.5 284.4,226.6 284.5,226.3 284.6,232.9 284.7,230.3 284.8,233.3 284.9,235.0 285.0,234.1 285.0,235.9 285.1,229.4 285.2,231.5 285.3,233.6 285.4,236.2 285.5,236.5 285.6,238.3 285.7,237.1 285.8,236.0 285.9,235.7 286.0,241.8 286.1,242.5 286.2,240.9 286.3,243.7 286.4,240.3 286.5,239.8 286.6,238.8 286.7,237.2 286.8,239.0 286.9,233.5 287.0,232.0 287.1,235.6 287.2,234.2 287.2,232.6 287.3,235.8 287.4,236.1 287.5,233.0 287.6,240.6 287.7,240.6 287.8,235.6 287.9,232.1 288.0,234.6 288.1,230.4 288.2,224.2 288.3,226.7 288.4,228.6 288.5,229.1 288.6,232.4 288.7,229.3 288.8,228.7 288.9,226.7 289.0,223.5 289.1,225.8 289.1,226.4 289.2,226.2 289.3,221.8 289.4,228.8 289.5,227.9 289.6,229.1 289.7,227.4 289.8,224.4 289.9,224.9 290.0,223.1 290.1,223.7 290.2,226.5 290.3,227.5 290.4,230.1 290.5,226.5 290.6,226.4 290.7,222.6 290.8,220.1 290.9,224.2 290.9,226.7 291.0,222.9 291.1,225.2 291.2,223.0 291.3,220.6 291.4,222.2 291.5,216.4 291.6,221.0 291.7,219.6 291.8,221.3 291.9,229.5 292.0,225.4 292.1,223.3 292.2,220.0 292.3,220.4 292.4,222.3 292.5,222.6 292.5,222.0 292.6,218.5 292.7,219.8 292.8,215.9 292.9,215.0 293.0,219.2 293.1,216.0 293.2,224.1 293.3,221.3 293.4,222.8 293.5,220.9 293.6,216.2 293.7,217.2 293.8,218.1 293.9,214.2 294.0,218.3 294.1,220.4 294.2,216.1 294.2,214.9 294.3,220.3 294.4,218.3 294.5,215.3 294.6,216.6 294.7,217.9 294.8,216.9 294.9,216.1 295.0,218.3 295.1,215.0 295.2,220.6 295.3,218.9 295.4,211.5 295.5,217.4 295.6,217.3 295.7,223.9 295.8,223.0 295.9,223.5 295.9,220.2 296.0,220.2 296.1,213.3 296.2,218.1 296.3,217.9 296.4,217.0 296.5,215.4 296.6,213.9 296.7,220.4 296.8,212.6 296.9,216.1 297.0,219.1 297.1,223.4 297.2,222.0 297.3,225.3 297.4,221.2 297.5,221.5 297.5,218.9 297.6,220.9 297.7,219.4 297.8,212.3 297.9,212.0 298.0,214.8 298.1,219.6 298.2,214.8 298.3,221.8 298.4,224.5 298.5,217.7 298.6,219.8 298.7,215.1 298.8,215.0 298.9,210.1 299.0,208.8 299.1,211.7 299.2,216.6 299.2,215.4 299.3,212.4 299.4,214.6 299.5,224.6 299.6,222.1 299.7,220.8 299.8,219.2 299.9,219.2 300.0,214.7 300.1,219.6 300.2,216.9 300.3,222.7 300.4,226.1 300.5,224.3 300.6,222.6 300.7,222.1 300.8,221.3 300.8,216.9 300.9,214.7 301.0,215.1 301.1,214.9 301.2,217.4 301.3,219.5 301.4,221.7 301.5,219.8 301.6,221.0 301.7,219.1 301.8,215.0 301.9,213.4 302.0,210.3 302.1,215.4 302.2,221.7 302.3,221.5 302.4,212.1 302.5,211.3 302.5,214.2 302.6,210.3 302.7,213.6 302.8,208.9 302.9,212.7 303.0,214.6 303.1,212.2 303.2,216.4 303.3,215.6 303.4,208.8 303.5,209.9 303.6,215.0 303.7,214.9 303.8,214.2 303.9,216.0 304.0,213.3 304.1,209.4 304.1,211.0 304.2,209.3 304.3,210.1 304.4,211.0 304.5,214.0 304.6,210.4 304.7,207.3 304.8,211.2 304.9,214.3 305.0,211.6 305.1,211.5 305.2,208.4 305.3,208.7 305.4,210.7 305.5,215.4 305.6,211.7 305.7,211.4 305.8,215.3 305.8,217.9 305.9,220.2 306.0,214.0 306.1,214.0 306.2,222.6 306.3,219.6 306.4,217.3 306.5,214.6 306.6,212.7 306.7,212.9 306.8,209.7 306.9,207.2 307.0,209.7 307.1,205.5 307.2,208.5 307.3,212.2 307.4,210.9 307.5,215.0 307.5,213.6 307.6,215.2 307.7,214.1 307.8,211.6 307.9,218.3 308.0,213.0 308.1,210.8 308.2,211.0 308.3,208.3 308.4,208.1 308.5,210.2 308.6,213.1 308.7,209.4 308.8,207.4 308.9,213.1 309.0,213.8 309.1,215.5 309.1,210.2 309.2,211.9 309.3,214.7 309.4,207.8 309.5,207.6 309.6,208.1 309.7,208.3 309.8,209.7 309.9,209.8 310.0,207.2 310.1,207.3 310.2,210.0 310.3,209.7 310.4,204.2 310.5,208.8 310.6,213.4 310.7,211.4 310.8,214.1 310.9,204.2 310.9,205.2 311.0,205.9 311.1,206.8 311.2,202.5 311.3,209.3 311.4,209.8 311.5,215.0 311.6,208.8 311.7,209.6 311.8,204.6 311.9,208.2 312.0,212.4 312.1,213.5 312.2,209.5 312.3,212.5 312.4,210.7 312.5,212.8 312.6,213.9 312.6,214.0 312.7,207.5 312.8,212.4 312.9,210.7 313.0,208.4 313.1,212.0 313.2,216.1 313.3,209.1 313.4,204.9 313.5,208.8 313.6,213.7 313.7,209.9 313.8,210.8 313.9,213.6 314.0,213.8 314.1,219.9 314.2,218.3 314.2,218.7 314.3,219.2 314.4,213.8 314.5,212.1 314.6,206.9 314.7,217.6 314.8,216.9 314.9,217.1 315.0,210.7 315.1,208.4 315.2,210.1 315.3,211.2 315.4,214.3 315.5,215.2 315.6,215.6 315.7,222.1 315.8,212.1 315.9,210.7 315.9,206.0 316.0,206.3 316.1,208.8 316.2,209.0 316.3,216.8 316.4,218.8 316.5,214.2 316.6,215.7 316.7,220.3 316.8,217.8 316.9,220.5 317.0,218.0 317.1,212.2 317.2,217.5 317.3,218.1 317.4,215.5 317.5,216.0 317.6,215.7 317.6,218.7 317.7,218.8 317.8,225.0 317.9,221.6 318.0,215.6 318.1,219.9 318.2,219.3 318.3,216.5 318.4,213.6 318.5,212.1 318.6,217.4 318.7,218.6 318.8,212.7 318.9,216.3 319.0,215.8 319.1,218.8 319.2,219.7 319.2,227.1 319.3,223.4 319.4,226.5 319.5,224.4 319.6,223.2 319.7,215.5 319.8,213.4 319.9,213.4 320.0,216.1 320.1,220.0 320.2,216.2 320.3,218.2 320.4,217.0 320.5,213.2 320.6,214.6 320.7,214.8 320.8,217.7 320.9,213.0 320.9,212.1 321.0,211.1 321.1,207.7 321.2,215.8 321.3,214.8 321.4,212.4 321.5,212.0 321.6,211.9 321.7,211.2 321.8,216.9 321.9,215.2 322.0,210.4 322.1,211.6 322.2,212.5 322.3,209.7 322.4,216.0 322.5,212.5 322.6,207.2 322.6,209.9 322.7,212.8 322.8,210.0 322.9,211.5 323.0,213.2 323.1,210.9 323.2,215.2 323.3,210.2 323.4,213.2 323.5,212.6 323.6,208.3 323.7,208.3 323.8,207.3 323.9,203.3 324.0,200.7 324.1,197.5 324.2,203.9 324.3,202.5 324.3,209.5 324.4,205.4 324.5,201.6 324.6,205.9 324.7,204.2 324.8,202.1 324.9,204.0 325.0,206.3 325.1,200.7 325.2,206.6 325.3,204.9 325.4,201.5 325.5,202.0 325.6,198.0 325.7,196.2 325.8,198.4 325.9,195.4 326.0,196.9 326.0,203.8 326.1,204.3 326.2,202.6 326.3,202.0 326.4,207.4 326.5,197.7 326.6,204.7 326.7,206.8 326.8,202.9 326.9,201.6 327.0,196.8 327.1,198.3 327.2,198.6 327.3,197.5 327.4,201.4 327.5,205.1 327.6,204.2 327.6,199.1 327.7,200.6 327.8,196.4 327.9,199.9 328.0,197.5 328.1,198.4 328.2,196.3 328.3,197.8 328.4,197.8 328.5,199.9 328.6,195.6 328.7,197.4 328.8,196.6 328.9,195.7 329.0,200.0 329.1,201.9 329.2,200.4 329.3,195.5 329.4,200.3 329.4,202.6 329.5,203.6 329.6,202.2 329.7,203.5 329.8,203.4 329.9,199.1 330.0,202.0 330.1,200.0 330.2,202.7 330.3,200.9 330.4,197.8 330.5,204.0 330.6,200.7 330.7,198.5 330.8,198.2 330.9,197.1 331.0,196.0 331.0,200.7 331.1,199.4 331.2,196.3 331.3,192.8 331.4,199.2 331.5,200.0 331.6,202.8 331.7,199.9 331.8,201.8 331.9,202.4 332.0,197.3 332.1,190.1 332.2,200.0 332.3,193.4 332.4,198.1 332.5,195.5 332.6,195.2 332.7,192.4 332.7,195.4 332.8,198.9 332.9,198.3 333.0,195.4 333.1,199.1 333.2,197.0 333.3,197.2 333.4,196.8 333.5,197.1 333.6,195.4 333.7,194.0 333.8,196.7 333.9,198.2 334.0,204.6 334.1,203.9 334.2,205.5 334.3,199.5 334.4,202.0 334.4,202.1 334.5,198.3 334.6,195.0 334.7,192.6 334.8,197.9 334.9,197.2 335.0,194.3 335.1,198.8 335.2,199.1 335.3,202.0 335.4,201.6 335.5,197.0 335.6,196.4 335.7,197.4 335.8,198.4 335.9,192.2 336.0,191.4 336.1,197.0 336.1,189.1 336.2,193.0 336.3,194.0 336.4,195.4 336.5,196.2 336.6,192.6 336.7,197.2 336.8,194.8 336.9,194.5 337.0,187.7 337.1,188.4 337.2,188.5 337.3,188.1 337.4,187.5 337.5,188.5 337.6,197.0 337.7,192.0 337.8,191.7 337.8,188.2 337.9,187.5 338.0,189.7 338.1,191.8 338.2,193.1 338.3,189.4 338.4,188.7 338.5,190.6 338.6,189.8 338.7,187.2 338.8,189.0 338.9,188.2 339.0,189.3 339.1,196.1 339.2,190.9 339.3,188.4 339.4,184.7 339.5,181.2 339.6,185.9 339.7,184.0 339.7,184.0 339.8,184.6 339.9,182.4 340.0,181.2 340.1,187.3 340.2,181.6 340.3,183.9 340.4,186.6 340.5,188.0 340.6,187.1 340.7,189.5 340.8,183.6 340.9,183.0 341.0,186.9 341.1,183.5 341.2,183.7 341.3,184.4 341.4,182.0 341.5,184.2 341.6,185.9 341.7,184.4 341.8,191.2 341.9,192.6 342.0,188.0 342.0,183.9 342.1,190.7 342.2,188.8 342.3,190.0 342.4,189.5 342.5,186.6 342.6,182.3 342.7,179.4 342.8,180.6 342.9,182.3 343.0,184.7 343.1,192.3 343.2,189.0 343.3,192.4 343.4,193.8 343.5,190.7 343.6,194.5 343.7,185.9 343.8,185.3 343.9,185.7 344.0,185.6 344.1,186.3 344.2,187.3 344.2,185.8 344.3,189.4 344.4,188.2 344.5,188.0 344.6,186.0 344.7,190.9 344.8,189.2 344.9,189.5 345.0,187.3 345.1,186.5 345.2,187.2 345.3,186.8 345.4,186.4 345.5,183.3 345.6,184.9 345.7,185.0 345.8,189.5 345.9,189.5 346.0,186.3 346.1,183.7 346.1,188.7 346.2,188.2 346.3,188.6 346.4,187.7 346.5,188.9 346.6,189.2 346.7,188.2 346.8,187.0 346.9,183.5 347.0,187.5 347.1,189.9 347.2,185.4 347.3,184.0 347.4,185.4 347.5,189.1 347.6,183.9 347.7,187.9 347.8,182.9 347.9,183.1 347.9,184.4 348.0,185.0 348.1,182.1 348.2,183.2 348.3,189.1 348.4,188.8 348.5,193.1 348.6,187.1 348.7,182.4 348.8,179.5 348.9,185.4 349.0,177.2 349.1,174.0 349.2,178.3 349.3,186.4 349.4,186.7 349.5,180.6 349.6,174.2 349.7,179.1 349.8,185.6 349.9,185.9 350.0,176.8 350.0,178.2 350.1,183.2 350.2,187.8 350.3,181.2 350.4,177.2 350.5,179.2 350.6,179.2 350.7,178.2 350.8,178.8 350.9,179.7 351.0,180.1 351.1,180.2 351.2,174.3 351.3,173.8 351.4,171.5 351.5,168.7 351.6,180.9 351.7,180.4 351.8,177.3 351.9,179.9 352.0,182.9 352.0,181.6 352.1,184.4 352.2,187.1 352.3,187.3 352.4,186.6 352.5,186.9 352.6,184.6 352.7,186.7 352.8,189.7 352.9,180.6 353.0,186.7 353.1,190.3 353.2,192.1 353.2,195.1 353.3,199.8 353.4,197.0 353.5,192.1 353.6,200.3 353.7,201.5 353.8,197.9" fill="none" stroke="#0071BC" stroke-width="1.8" stroke-linejoin="round" stroke-linecap="butt"/>
<line x1="70.50" y1="248.50" x2="356.50" y2="248.50" stroke="#231F20" stroke-width="1"/>
<line x1="70.50" y1="245.50" x2="70.50" y2="248.50" stroke="#231F20" stroke-width="1"/>
<line x1="94.50" y1="245.50" x2="94.50" y2="248.50" stroke="#231F20" stroke-width="1"/>
<line x1="118.50" y1="245.50" x2="118.50" y2="248.50" stroke="#231F20" stroke-width="1"/>
<line x1="141.50" y1="245.50" x2="141.50" y2="248.50" stroke="#231F20" stroke-width="1"/>
<line x1="165.50" y1="245.50" x2="165.50" y2="248.50" stroke="#231F20" stroke-width="1"/>
<line x1="189.50" y1="245.50" x2="189.50" y2="248.50" stroke="#231F20" stroke-width="1"/>
<line x1="213.50" y1="245.50" x2="213.50" y2="248.50" stroke="#231F20" stroke-width="1"/>
<line x1="237.50" y1="245.50" x2="237.50" y2="248.50" stroke="#231F20" stroke-width="1"/>
<line x1="260.50" y1="245.50" x2="260.50" y2="248.50" stroke="#231F20" stroke-width="1"/>
<line x1="284.50" y1="245.50" x2="284.50" y2="248.50" stroke="#231F20" stroke-width="1"/>
<line x1="308.50" y1="245.50" x2="308.50" y2="248.50" stroke="#231F20" stroke-width="1"/>
<line x1="332.50" y1="245.50" x2="332.50" y2="248.50" stroke="#231F20" stroke-width="1"/>
<line x1="356.50" y1="245.50" x2="356.50" y2="248.50" stroke="#231F20" stroke-width="1"/>
<text x="106.19" y="258.80" font-size="10.2" text-anchor="middle">2008</text>
<text x="153.77" y="258.80" font-size="10.2" text-anchor="middle">2010</text>
<text x="201.35" y="258.80" font-size="10.2" text-anchor="middle">2012</text>
<text x="248.94" y="258.80" font-size="10.2" text-anchor="middle">2014</text>
<text x="296.52" y="258.80" font-size="10.2" text-anchor="middle">2016</text>
<text x="344.10" y="258.80" font-size="10.2" text-anchor="middle">2018</text>
<text x="565.80" y="66.80" font-size="12.75" text-anchor="middle" font-weight="bold">B. Contributions to annual oil supply growth</text>
<text x="391.00" y="82.80" font-size="10.6">% pts</text>
<line x1="425.50" y1="226.50" x2="712.00" y2="226.50" stroke="#C8C8C8" stroke-width="1"/>
<line x1="425.50" y1="182.50" x2="712.00" y2="182.50" stroke="#C8C8C8" stroke-width="1"/>
<line x1="425.50" y1="160.50" x2="712.00" y2="160.50" stroke="#C8C8C8" stroke-width="1"/>
<line x1="425.50" y1="138.50" x2="712.00" y2="138.50" stroke="#C8C8C8" stroke-width="1"/>
<line x1="425.50" y1="116.50" x2="712.00" y2="116.50" stroke="#C8C8C8" stroke-width="1"/>
<line x1="425.50" y1="94.50" x2="712.00" y2="94.50" stroke="#C8C8C8" stroke-width="1"/>
<text x="419.50" y="251.00" font-size="10.2" text-anchor="end">-2</text>
<text x="419.50" y="229.00" font-size="10.2" text-anchor="end">-1</text>
<text x="419.50" y="207.00" font-size="10.2" text-anchor="end">0</text>
<text x="419.50" y="185.00" font-size="10.2" text-anchor="end">1</text>
<text x="419.50" y="163.00" font-size="10.2" text-anchor="end">2</text>
<text x="419.50" y="141.00" font-size="10.2" text-anchor="end">3</text>
<text x="419.50" y="119.00" font-size="10.2" text-anchor="end">4</text>
<text x="419.50" y="97.00" font-size="10.2" text-anchor="end">5</text>
<rect x="426.50" y="177.50" width="9.00" height="27.00" fill="#E8343E" stroke="#231F20" stroke-width="1"/>
<rect x="426.50" y="174.50" width="9.00" height="3.00" fill="#0071BC" stroke="#231F20" stroke-width="1"/>
<rect x="426.50" y="204.50" width="9.00" height="20.00" fill="#5CBA5C" stroke="#231F20" stroke-width="1"/>
<rect x="426.50" y="224.50" width="9.00" height="15.00" fill="#A8569F" stroke="#231F20" stroke-width="1"/>
<rect x="438.50" y="176.50" width="9.00" height="28.00" fill="#E8343E" stroke="#231F20" stroke-width="1"/>
<rect x="438.50" y="171.50" width="9.00" height="5.00" fill="#0071BC" stroke="#231F20" stroke-width="1"/>
<rect x="438.50" y="204.50" width="9.00" height="20.00" fill="#5CBA5C" stroke="#231F20" stroke-width="1"/>
<rect x="438.50" y="169.50" width="9.00" height="2.00" fill="#A8569F" stroke="#231F20" stroke-width="1"/>
<rect x="450.50" y="164.50" width="9.00" height="40.00" fill="#E8343E" stroke="#231F20" stroke-width="1"/>
<rect x="450.50" y="157.50" width="9.00" height="7.00" fill="#0071BC" stroke="#231F20" stroke-width="1"/>
<rect x="450.50" y="204.50" width="9.00" height="21.00" fill="#5CBA5C" stroke="#231F20" stroke-width="1"/>
<rect x="450.50" y="152.50" width="9.00" height="5.00" fill="#A8569F" stroke="#231F20" stroke-width="1"/>
<rect x="462.50" y="176.50" width="9.00" height="28.00" fill="#E8343E" stroke="#231F20" stroke-width="1"/>
<rect x="462.50" y="170.50" width="9.00" height="6.00" fill="#0071BC" stroke="#231F20" stroke-width="1"/>
<rect x="462.50" y="204.50" width="9.00" height="25.00" fill="#5CBA5C" stroke="#231F20" stroke-width="1"/>
<rect x="462.50" y="163.50" width="9.00" height="7.00" fill="#A8569F" stroke="#231F20" stroke-width="1"/>
<rect x="474.50" y="171.50" width="9.00" height="33.00" fill="#E8343E" stroke="#231F20" stroke-width="1"/>
<rect x="474.50" y="167.50" width="9.00" height="4.00" fill="#0071BC" stroke="#231F20" stroke-width="1"/>
<rect x="474.50" y="204.50" width="9.00" height="8.00" fill="#5CBA5C" stroke="#231F20" stroke-width="1"/>
<rect x="474.50" y="156.50" width="9.00" height="11.00" fill="#A8569F" stroke="#231F20" stroke-width="1"/>
<rect x="486.50" y="156.50" width="9.00" height="48.00" fill="#E8343E" stroke="#231F20" stroke-width="1"/>
<rect x="486.50" y="155.50" width="9.00" height="1.00" fill="#0071BC" stroke="#231F20" stroke-width="1"/>
<rect x="486.50" y="204.50" width="9.00" height="14.00" fill="#5CBA5C" stroke="#231F20" stroke-width="1"/>
<rect x="486.50" y="149.50" width="9.00" height="6.00" fill="#A8569F" stroke="#231F20" stroke-width="1"/>
<rect x="497.50" y="164.50" width="9.00" height="40.00" fill="#E8343E" stroke="#231F20" stroke-width="1"/>
<rect x="497.50" y="162.50" width="9.00" height="2.00" fill="#0071BC" stroke="#231F20" stroke-width="1"/>
<rect x="497.50" y="160.50" width="9.00" height="2.00" fill="#5CBA5C" stroke="#231F20" stroke-width="1"/>
<rect x="497.50" y="152.50" width="9.00" height="8.00" fill="#A8569F" stroke="#231F20" stroke-width="1"/>
<rect x="509.50" y="158.50" width="9.00" height="46.00" fill="#E8343E" stroke="#231F20" stroke-width="1"/>
<rect x="509.50" y="135.50" width="9.00" height="23.00" fill="#5CBA5C" stroke="#231F20" stroke-width="1"/>
<rect x="509.50" y="122.50" width="9.00" height="13.00" fill="#A8569F" stroke="#231F20" stroke-width="1"/>
<rect x="521.50" y="165.50" width="9.00" height="39.00" fill="#E8343E" stroke="#231F20" stroke-width="1"/>
<rect x="521.50" y="162.50" width="9.00" height="3.00" fill="#0071BC" stroke="#231F20" stroke-width="1"/>
<rect x="521.50" y="146.50" width="9.00" height="16.00" fill="#5CBA5C" stroke="#231F20" stroke-width="1"/>
<rect x="521.50" y="138.50" width="9.00" height="8.00" fill="#A8569F" stroke="#231F20" stroke-width="1"/>
<rect x="533.50" y="187.50" width="9.00" height="17.00" fill="#E8343E" stroke="#231F20" stroke-width="1"/>
<rect x="533.50" y="183.50" width="9.00" height="4.00" fill="#0071BC" stroke="#231F20" stroke-width="1"/>
<rect x="533.50" y="145.50" width="9.00" height="38.00" fill="#5CBA5C" stroke="#231F20" stroke-width="1"/>
<rect x="533.50" y="131.50" width="9.00" height="14.00" fill="#A8569F" stroke="#231F20" stroke-width="1"/>
<rect x="545.50" y="185.50" width="9.00" height="19.00" fill="#E8343E" stroke="#231F20" stroke-width="1"/>
<rect x="545.50" y="182.50" width="9.00" height="3.00" fill="#0071BC" stroke="#231F20" stroke-width="1"/>
<rect x="545.50" y="149.50" width="9.00" height="33.00" fill="#5CBA5C" stroke="#231F20" stroke-width="1"/>
<rect x="545.50" y="138.50" width="9.00" height="11.00" fill="#A8569F" stroke="#231F20" stroke-width="1"/>
<rect x="557.50" y="198.50" width="9.00" height="6.00" fill="#E8343E" stroke="#231F20" stroke-width="1"/>
<rect x="557.50" y="195.50" width="9.00" height="3.00" fill="#0071BC" stroke="#231F20" stroke-width="1"/>
<rect x="557.50" y="164.50" width="9.00" height="31.00" fill="#5CBA5C" stroke="#231F20" stroke-width="1"/>
<rect x="557.50" y="161.50" width="9.00" height="3.00" fill="#A8569F" stroke="#231F20" stroke-width="1"/>
<rect x="569.50" y="204.50" width="9.00" height="4.00" fill="#E8343E" stroke="#231F20" stroke-width="1"/>
<rect x="569.50" y="200.50" width="9.00" height="4.00" fill="#0071BC" stroke="#231F20" stroke-width="1"/>
<rect x="569.50" y="166.50" width="9.00" height="34.00" fill="#5CBA5C" stroke="#231F20" stroke-width="1"/>
<rect x="581.50" y="204.50" width="9.00" height="15.00" fill="#E8343E" stroke="#231F20" stroke-width="1"/>
<rect x="581.50" y="185.50" width="9.00" height="19.00" fill="#5CBA5C" stroke="#231F20" stroke-width="1"/>
<rect x="581.50" y="219.50" width="9.00" height="11.00" fill="#A8569F" stroke="#231F20" stroke-width="1"/>
<rect x="593.50" y="204.50" width="9.00" height="19.00" fill="#E8343E" stroke="#231F20" stroke-width="1"/>
<rect x="593.50" y="184.50" width="9.00" height="20.00" fill="#5CBA5C" stroke="#231F20" stroke-width="1"/>
<rect x="593.50" y="223.50" width="9.00" height="7.00" fill="#A8569F" stroke="#231F20" stroke-width="1"/>
<rect x="605.50" y="204.50" width="9.00" height="11.00" fill="#E8343E" stroke="#231F20" stroke-width="1"/>
<rect x="605.50" y="194.50" width="9.00" height="10.00" fill="#0071BC" stroke="#231F20" stroke-width="1"/>
<rect x="605.50" y="164.50" width="9.00" height="30.00" fill="#5CBA5C" stroke="#231F20" stroke-width="1"/>
<rect x="605.50" y="215.50" width="9.00" height="11.00" fill="#A8569F" stroke="#231F20" stroke-width="1"/>
<rect x="617.50" y="202.50" width="9.00" height="2.00" fill="#E8343E" stroke="#231F20" stroke-width="1"/>
<rect x="617.50" y="198.50" width="9.00" height="4.00" fill="#0071BC" stroke="#231F20" stroke-width="1"/>
<rect x="617.50" y="204.50" width="9.00" height="4.00" fill="#A8569F" stroke="#231F20" stroke-width="1"/>
<rect x="629.50" y="186.50" width="9.00" height="18.00" fill="#E8343E" stroke="#231F20" stroke-width="1"/>
<rect x="629.50" y="179.50" width="9.00" height="7.00" fill="#0071BC" stroke="#231F20" stroke-width="1"/>
<rect x="629.50" y="204.50" width="9.00" height="3.00" fill="#A8569F" stroke="#231F20" stroke-width="1"/>
<rect x="640.50" y="182.50" width="9.00" height="22.00" fill="#E8343E" stroke="#231F20" stroke-width="1"/>
<rect x="640.50" y="177.50" width="9.00" height="5.00" fill="#0071BC" stroke="#231F20" stroke-width="1"/>
<rect x="640.50" y="204.50" width="9.00" height="2.00" fill="#5CBA5C" stroke="#231F20" stroke-width="1"/>
<rect x="652.50" y="169.50" width="9.00" height="35.00" fill="#E8343E" stroke="#231F20" stroke-width="1"/>
<rect x="652.50" y="204.50" width="9.00" height="4.00" fill="#0071BC" stroke="#231F20" stroke-width="1"/>
<rect x="652.50" y="208.50" width="9.00" height="21.00" fill="#5CBA5C" stroke="#231F20" stroke-width="1"/>
<rect x="652.50" y="229.50" width="9.00" height="8.00" fill="#A8569F" stroke="#231F20" stroke-width="1"/>
<rect x="664.50" y="164.50" width="9.00" height="40.00" fill="#E8343E" stroke="#231F20" stroke-width="1"/>
<rect x="664.50" y="163.50" width="9.00" height="1.00" fill="#5CBA5C" stroke="#231F20" stroke-width="1"/>
<rect x="664.50" y="204.50" width="9.00" height="4.00" fill="#A8569F" stroke="#231F20" stroke-width="1"/>
<rect x="676.50" y="152.50" width="9.00" height="52.00" fill="#E8343E" stroke="#231F20" stroke-width="1"/>
<rect x="676.50" y="149.50" width="9.00" height="3.00" fill="#0071BC" stroke="#231F20" stroke-width="1"/>
<rect x="676.50" y="204.50" width="9.00" height="11.00" fill="#5CBA5C" stroke="#231F20" stroke-width="1"/>
<rect x="688.50" y="152.50" width="9.00" height="52.00" fill="#E8343E" stroke="#231F20" stroke-width="1"/>
<rect x="688.50" y="143.50" width="9.00" height="9.00" fill="#0071BC" stroke="#231F20" stroke-width="1"/>
<rect x="688.50" y="204.50" width="9.00" height="7.00" fill="#5CBA5C" stroke="#231F20" stroke-width="1"/>
<line x1="425.50" y1="204.50" x2="712.00" y2="204.50" stroke="#231F20" stroke-width="1"/>
<polyline points="430.96,208.68 442.88,187.34 454.79,172.82 466.71,189.10 478.62,164.46 490.54,164.02 502.46,152.80 514.38,122.00 526.29,137.18 538.21,131.46 550.12,137.84 562.04,161.16 573.96,169.52 585.88,210.44 597.79,210.44 609.71,186.24 621.62,202.08 633.54,182.06 645.46,181.18 657.38,202.08 669.29,167.54 681.21,161.16 693.12,151.70" fill="none" stroke="#231F20" stroke-width="2.4" stroke-linejoin="round" stroke-linecap="butt"/>
<line x1="425.50" y1="248.50" x2="712.00" y2="248.50" stroke="#231F20" stroke-width="1"/>
<line x1="425.50" y1="243.50" x2="425.50" y2="248.50" stroke="#231F20" stroke-width="1"/>
<line x1="437.50" y1="246.00" x2="437.50" y2="248.50" stroke="#231F20" stroke-width="1"/>
<line x1="449.50" y1="246.00" x2="449.50" y2="248.50" stroke="#231F20" stroke-width="1"/>
<line x1="461.50" y1="246.00" x2="461.50" y2="248.50" stroke="#231F20" stroke-width="1"/>
<line x1="473.50" y1="243.50" x2="473.50" y2="248.50" stroke="#231F20" stroke-width="1"/>
<line x1="485.50" y1="246.00" x2="485.50" y2="248.50" stroke="#231F20" stroke-width="1"/>
<line x1="497.50" y1="246.00" x2="497.50" y2="248.50" stroke="#231F20" stroke-width="1"/>
<line x1="508.50" y1="246.00" x2="508.50" y2="248.50" stroke="#231F20" stroke-width="1"/>
<line x1="520.50" y1="243.50" x2="520.50" y2="248.50" stroke="#231F20" stroke-width="1"/>
<line x1="532.50" y1="246.00" x2="532.50" y2="248.50" stroke="#231F20" stroke-width="1"/>
<line x1="544.50" y1="246.00" x2="544.50" y2="248.50" stroke="#231F20" stroke-width="1"/>
<line x1="556.50" y1="246.00" x2="556.50" y2="248.50" stroke="#231F20" stroke-width="1"/>
<line x1="568.50" y1="243.50" x2="568.50" y2="248.50" stroke="#231F20" stroke-width="1"/>
<line x1="580.50" y1="246.00" x2="580.50" y2="248.50" stroke="#231F20" stroke-width="1"/>
<line x1="592.50" y1="246.00" x2="592.50" y2="248.50" stroke="#231F20" stroke-width="1"/>
<line x1="604.50" y1="246.00" x2="604.50" y2="248.50" stroke="#231F20" stroke-width="1"/>
<line x1="616.50" y1="243.50" x2="616.50" y2="248.50" stroke="#231F20" stroke-width="1"/>
<line x1="628.50" y1="246.00" x2="628.50" y2="248.50" stroke="#231F20" stroke-width="1"/>
<line x1="640.50" y1="246.00" x2="640.50" y2="248.50" stroke="#231F20" stroke-width="1"/>
<line x1="651.50" y1="246.00" x2="651.50" y2="248.50" stroke="#231F20" stroke-width="1"/>
<line x1="663.50" y1="243.50" x2="663.50" y2="248.50" stroke="#231F20" stroke-width="1"/>
<line x1="675.50" y1="246.00" x2="675.50" y2="248.50" stroke="#231F20" stroke-width="1"/>
<line x1="687.50" y1="246.00" x2="687.50" y2="248.50" stroke="#231F20" stroke-width="1"/>
<line x1="699.50" y1="246.00" x2="699.50" y2="248.50" stroke="#231F20" stroke-width="1"/>
<line x1="711.50" y1="243.50" x2="711.50" y2="248.50" stroke="#231F20" stroke-width="1"/>
<text x="449.33" y="258.80" font-size="10.2" text-anchor="middle">2013</text>
<text x="497.00" y="258.80" font-size="10.2" text-anchor="middle">2014</text>
<text x="544.67" y="258.80" font-size="10.2" text-anchor="middle">2015</text>
<text x="592.33" y="258.80" font-size="10.2" text-anchor="middle">2016</text>
<text x="640.00" y="258.80" font-size="10.2" text-anchor="middle">2017</text>
<text x="687.67" y="258.80" font-size="10.2" text-anchor="middle">2018</text>
<rect x="560.50" y="97.50" width="20.00" height="9.00" fill="#E8343E" stroke="#231F20" stroke-width="1"/>
<text x="589.50" y="105.10" font-size="9.6">North America</text>
<rect x="560.50" y="109.50" width="20.00" height="9.00" fill="#0071BC" stroke="#231F20" stroke-width="1"/>
<text x="589.50" y="117.90" font-size="9.6">Russia</text>
<rect x="560.50" y="122.50" width="20.00" height="9.00" fill="#5CBA5C" stroke="#231F20" stroke-width="1"/>
<text x="589.50" y="130.70" font-size="9.6">OPEC</text>
<rect x="560.50" y="135.50" width="20.00" height="9.00" fill="#A8569F" stroke="#231F20" stroke-width="1"/>
<text x="589.50" y="143.60" font-size="9.6">Rest of the world</text>
<line x1="560.00" y1="153.50" x2="581.00" y2="153.50" stroke="#231F20" stroke-width="3"/>
<text x="589.50" y="157.00" font-size="9.5">Total supply, in %</text>
<text x="210.70" y="294.20" font-size="12.75" text-anchor="middle" font-weight="bold">C. Global oil demand and supply</text>
<text x="35.80" y="322.80" font-size="10.65">Index 2013q1 = 100, 4-quarter m.a.</text>
<line x1="70.00" y1="428.50" x2="356.00" y2="428.50" stroke="#C8C8C8" stroke-width="1"/>
<line x1="70.00" y1="405.50" x2="356.00" y2="405.50" stroke="#C8C8C8" stroke-width="1"/>
<line x1="70.00" y1="381.50" x2="356.00" y2="381.50" stroke="#C8C8C8" stroke-width="1"/>
<line x1="70.00" y1="358.50" x2="356.00" y2="358.50" stroke="#C8C8C8" stroke-width="1"/>
<line x1="70.00" y1="334.50" x2="356.00" y2="334.50" stroke="#C8C8C8" stroke-width="1"/>
<text x="64.30" y="479.00" font-size="10.2" text-anchor="end">98</text>
<text x="64.30" y="455.00" font-size="10.2" text-anchor="end">100</text>
<text x="64.30" y="431.00" font-size="10.2" text-anchor="end">102</text>
<text x="64.30" y="408.00" font-size="10.2" text-anchor="end">104</text>
<text x="64.30" y="384.00" font-size="10.2" text-anchor="end">106</text>
<text x="64.30" y="361.00" font-size="10.2" text-anchor="end">108</text>
<text x="64.30" y="337.00" font-size="10.2" text-anchor="end">110</text>
<line x1="70.00" y1="452.50" x2="356.00" y2="452.50" stroke="#231F20" stroke-width="1"/>
<polyline points="76.45,452.83 88.34,446.09 100.24,439.82 112.14,435.56 124.03,431.53 135.93,427.51 147.82,422.89 159.72,417.33 171.61,412.36 183.51,405.50 195.41,395.56 207.30,389.29 219.20,384.20 231.09,380.18 242.99,378.05 254.89,374.50 266.78,371.30 278.68,364.79 290.57,359.82 302.47,354.50 314.36,349.29 326.26,347.52 338.16,343.38" fill="none" stroke="#E8343E" stroke-width="2.6" stroke-linejoin="round" stroke-linecap="butt"/>
<polyline points="76.45,452.83 88.34,451.18 100.24,446.56 112.14,444.43 124.03,438.04 135.93,431.77 147.82,423.96 159.72,412.36 171.61,402.31 183.51,391.77 195.41,381.71 207.30,375.33 219.20,370.24 231.09,371.30 242.99,372.37 254.89,369.88 266.78,369.64 278.68,366.10 290.57,362.66 302.47,362.31 314.36,357.69 326.26,350.71 338.16,343.38" fill="none" stroke="#0071BC" stroke-width="2.6" stroke-linejoin="round" stroke-linecap="butt"/>
<line x1="70.50" y1="476.50" x2="356.50" y2="476.50" stroke="#231F20" stroke-width="1"/>
<line x1="70.50" y1="471.50" x2="70.50" y2="476.50" stroke="#231F20" stroke-width="1"/>
<line x1="82.50" y1="474.00" x2="82.50" y2="476.50" stroke="#231F20" stroke-width="1"/>
<line x1="94.50" y1="474.00" x2="94.50" y2="476.50" stroke="#231F20" stroke-width="1"/>
<line x1="106.50" y1="474.00" x2="106.50" y2="476.50" stroke="#231F20" stroke-width="1"/>
<line x1="118.50" y1="471.50" x2="118.50" y2="476.50" stroke="#231F20" stroke-width="1"/>
<line x1="129.50" y1="474.00" x2="129.50" y2="476.50" stroke="#231F20" stroke-width="1"/>
<line x1="141.50" y1="474.00" x2="141.50" y2="476.50" stroke="#231F20" stroke-width="1"/>
<line x1="153.50" y1="474.00" x2="153.50" y2="476.50" stroke="#231F20" stroke-width="1"/>
<line x1="165.50" y1="471.50" x2="165.50" y2="476.50" stroke="#231F20" stroke-width="1"/>
<line x1="177.50" y1="474.00" x2="177.50" y2="476.50" stroke="#231F20" stroke-width="1"/>
<line x1="189.50" y1="474.00" x2="189.50" y2="476.50" stroke="#231F20" stroke-width="1"/>
<line x1="201.50" y1="474.00" x2="201.50" y2="476.50" stroke="#231F20" stroke-width="1"/>
<line x1="213.50" y1="471.50" x2="213.50" y2="476.50" stroke="#231F20" stroke-width="1"/>
<line x1="225.50" y1="474.00" x2="225.50" y2="476.50" stroke="#231F20" stroke-width="1"/>
<line x1="237.50" y1="474.00" x2="237.50" y2="476.50" stroke="#231F20" stroke-width="1"/>
<line x1="248.50" y1="474.00" x2="248.50" y2="476.50" stroke="#231F20" stroke-width="1"/>
<line x1="260.50" y1="471.50" x2="260.50" y2="476.50" stroke="#231F20" stroke-width="1"/>
<line x1="272.50" y1="474.00" x2="272.50" y2="476.50" stroke="#231F20" stroke-width="1"/>
<line x1="284.50" y1="474.00" x2="284.50" y2="476.50" stroke="#231F20" stroke-width="1"/>
<line x1="296.50" y1="474.00" x2="296.50" y2="476.50" stroke="#231F20" stroke-width="1"/>
<line x1="308.50" y1="471.50" x2="308.50" y2="476.50" stroke="#231F20" stroke-width="1"/>
<line x1="320.50" y1="474.00" x2="320.50" y2="476.50" stroke="#231F20" stroke-width="1"/>
<line x1="332.50" y1="474.00" x2="332.50" y2="476.50" stroke="#231F20" stroke-width="1"/>
<line x1="344.50" y1="474.00" x2="344.50" y2="476.50" stroke="#231F20" stroke-width="1"/>
<line x1="356.50" y1="471.50" x2="356.50" y2="476.50" stroke="#231F20" stroke-width="1"/>
<text x="94.29" y="485.80" font-size="10.2" text-anchor="middle">2013</text>
<text x="141.88" y="485.80" font-size="10.2" text-anchor="middle">2014</text>
<text x="189.46" y="485.80" font-size="10.2" text-anchor="middle">2015</text>
<text x="237.04" y="485.80" font-size="10.2" text-anchor="middle">2016</text>
<text x="284.62" y="485.80" font-size="10.2" text-anchor="middle">2017</text>
<text x="332.21" y="485.80" font-size="10.2" text-anchor="middle">2018</text>
<line x1="132.80" y1="342.20" x2="154.10" y2="342.20" stroke="#E8343E" stroke-width="3.2"/>
<line x1="132.80" y1="355.50" x2="154.10" y2="355.50" stroke="#0071BC" stroke-width="3.2"/>
<text x="163.10" y="345.60" font-size="9.5">Oil demand</text>
<text x="163.10" y="358.90" font-size="9.5">Oil supply</text>
<text x="566.80" y="294.10" font-size="12.75" text-anchor="middle" font-weight="bold">D. The first-year impact of oil price</text>
<text x="567.50" y="306.70" font-size="12.75" text-anchor="middle" font-weight="bold">rise on real GDP</text>
<text x="393.50" y="322.80" font-size="10.2">%</text>
<line x1="425.50" y1="334.50" x2="712.00" y2="334.50" stroke="#C8C8C8" stroke-width="1"/>
<line x1="425.50" y1="369.50" x2="712.00" y2="369.50" stroke="#C8C8C8" stroke-width="1"/>
<line x1="425.50" y1="440.50" x2="712.00" y2="440.50" stroke="#C8C8C8" stroke-width="1"/>
<text x="420.30" y="337.00" font-size="10.2" text-anchor="end" letter-spacing="-0.4">0.50</text>
<text x="420.30" y="372.00" font-size="10.2" text-anchor="end" letter-spacing="-0.4">0.25</text>
<text x="420.30" y="408.00" font-size="10.2" text-anchor="end" letter-spacing="-0.4">0.00</text>
<text x="420.30" y="443.00" font-size="10.2" text-anchor="end" letter-spacing="-0.4">-0.25</text>
<text x="420.30" y="479.00" font-size="10.2" text-anchor="end" letter-spacing="-0.4">-0.50</text>
<rect x="430.50" y="405.50" width="46.00" height="57.00" fill="#5CBA5C" stroke="#231F20" stroke-width="1"/>
<rect x="488.50" y="405.50" width="46.00" height="25.00" fill="#5CBA5C" stroke="#231F20" stroke-width="1"/>
<rect x="545.50" y="405.50" width="46.00" height="23.00" fill="#5CBA5C" stroke="#231F20" stroke-width="1"/>
<rect x="602.50" y="388.50" width="46.00" height="17.00" fill="#5CBA5C" stroke="#231F20" stroke-width="1"/>
<rect x="659.50" y="344.50" width="46.00" height="61.00" fill="#5CBA5C" stroke="#231F20" stroke-width="1"/>
<line x1="425.50" y1="405.50" x2="712.00" y2="405.50" stroke="#231F20" stroke-width="1"/>
<line x1="425.50" y1="476.50" x2="712.00" y2="476.50" stroke="#231F20" stroke-width="1"/>
<line x1="454.50" y1="473.50" x2="454.50" y2="476.50" stroke="#231F20" stroke-width="1"/>
<text x="452.45" y="485.00" font-size="9.6" text-anchor="middle">Non-OECD</text>
<text x="454.15" y="494.80" font-size="9.6" text-anchor="middle">net</text>
<text x="454.15" y="504.60" font-size="9.6" text-anchor="middle">importers</text>
<line x1="511.50" y1="473.50" x2="511.50" y2="476.50" stroke="#231F20" stroke-width="1"/>
<text x="510.15" y="485.00" font-size="9.6" text-anchor="middle">World</text>
<line x1="568.50" y1="473.50" x2="568.50" y2="476.50" stroke="#231F20" stroke-width="1"/>
<text x="565.55" y="485.00" font-size="9.6" text-anchor="middle">OECD</text>
<text x="568.75" y="494.80" font-size="9.6" text-anchor="middle">net</text>
<text x="568.75" y="504.60" font-size="9.6" text-anchor="middle">importers</text>
<line x1="626.50" y1="473.50" x2="626.50" y2="476.50" stroke="#231F20" stroke-width="1"/>
<text x="624.15" y="485.00" font-size="9.6" text-anchor="middle">OECD</text>
<text x="626.05" y="494.80" font-size="9.6" text-anchor="middle">net</text>
<text x="626.05" y="504.60" font-size="9.6" text-anchor="middle">exporters</text>
<line x1="683.50" y1="473.50" x2="683.50" y2="476.50" stroke="#231F20" stroke-width="1"/>
<text x="683.85" y="485.00" font-size="9.6" text-anchor="middle">Non-OECD</text>
<text x="683.35" y="494.80" font-size="9.6" text-anchor="middle">net</text>
<text x="683.35" y="504.60" font-size="9.6" text-anchor="middle">exporters</text>
<text x="462.3" y="640.6" font-size="8.8" font-style="italic" letter-spacing="1.25" stroke="#231F20" stroke-width="0.35" style="font-family:'DejaVu Sans',sans-serif">StatLink</text>
<g transform="translate(516.4,634.6)"><path d="M0.6,0.2 H10 L9.6,6 H0 Z" fill="#909090"/><path d="M2.2,3.6 v2 M4.2,3.6 v2 M6.2,3.6 v2 M8.2,3.6 v2" stroke="#1a1a40" stroke-width="0.9"/><rect x="14.4" y="0.2" width="11.8" height="4.8" fill="#0a0a0a"/><path d="M18.6,1.2 v2 h3" stroke="#fff" stroke-width="0.8" fill="none"/><rect x="9.9" y="1.7" width="7.3" height="4.5" rx="0.8" fill="#fff" stroke="#222" stroke-width="0.9"/><path d="M12.2,4.2 h2.5" stroke="#223" stroke-width="0.8"/></g>
<text x="550.5" y="640.4" font-size="10.6" font-style="italic" style="font-family:'DejaVu Sans Condensed',sans-serif">http://dx.doi.org/10.1787/888933879729</text>
</svg>
<div id="notes"><div style="word-spacing:0.751px"><i class="it">Note:</i>  In panel D, the results are from the NiGEM model based on an increase of 20 USD per barrel in oil prices, beginning in 2019. A</div><div style="word-spacing:0.255px">negative shock on the investment risk premium is also applied for two years in Canada to better account for the investment boost in the</div><div style="word-spacing:-0.433px">oil sector such a shock is likely to produce. The OECD net importers group includes the euro area, Australia, the Czech Republic, Hungary,</div><div style="word-spacing:0.466px">Japan, Korea, Mexico, New Zealand, Poland, Sweden, Switzerland, the United Kingdom and the United States. The OECD net exporters</div><div style="word-spacing:1.149px">group includes Canada, Denmark and Norway. The non-OECD net importers group includes Brazil, China, India, Indonesia and South</div><div style="word-spacing:1.637px">Africa. The non-OECD net exporting group includes Russia and the NiGEM regional groups for Africa, the Middle East and the CIS</div><div style="word-spacing:0.000px">countries. Country groups are weighted together using purchasing power parities.</div><div style="word-spacing:-0.272px;margin-top:-0.6px"><i class="it">Source:</i>  OECD Main Economic Indicators database; Thomson Reuters; IEA, Monthly Oil Data service; and OECD calculations.</div></div>
</div>
</div></body></html>
